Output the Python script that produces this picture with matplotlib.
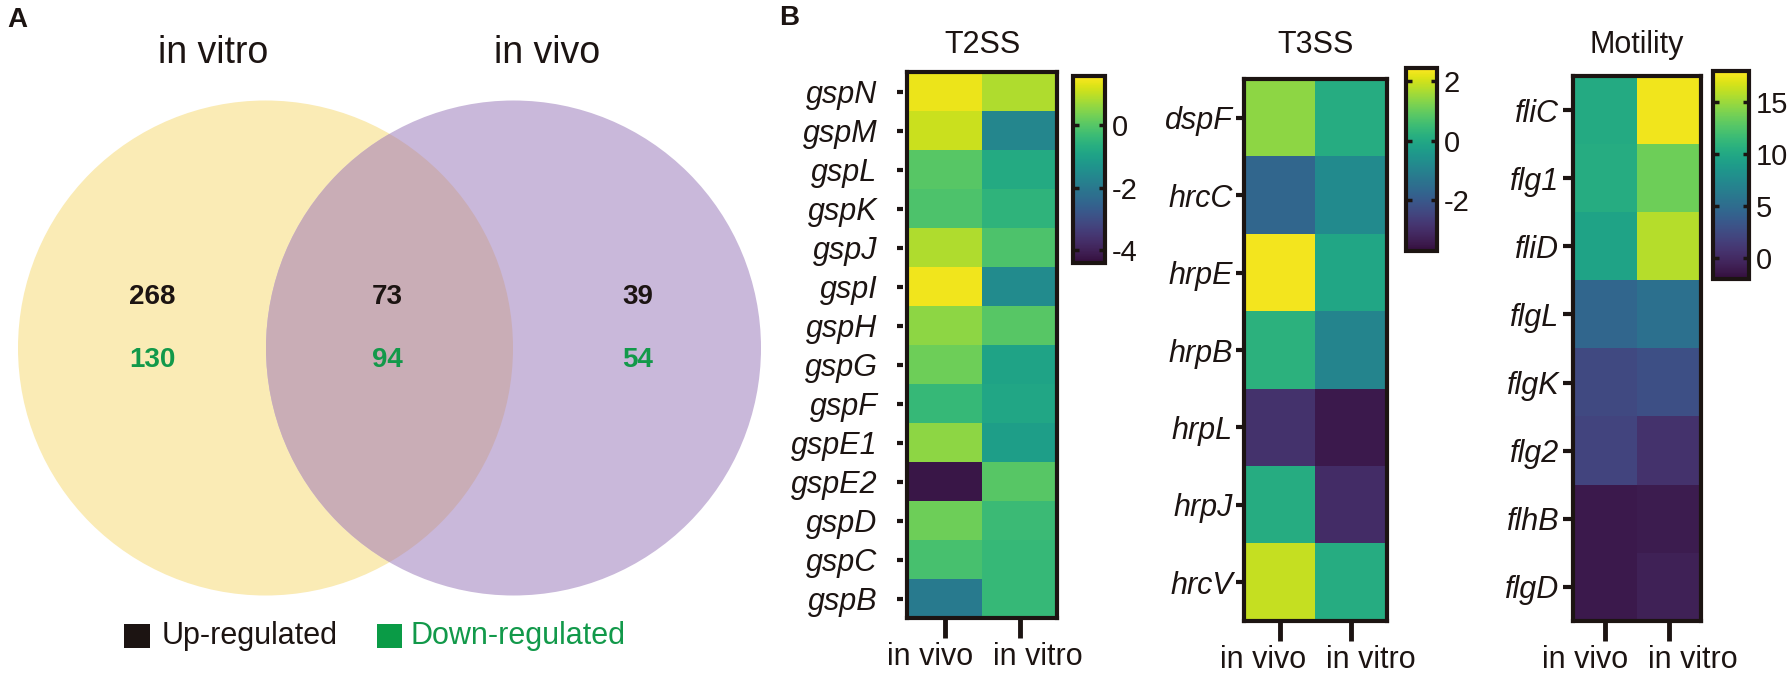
import numpy as np
import matplotlib
matplotlib.use('Agg')
import matplotlib.pyplot as plt
from matplotlib.patches import Circle, Rectangle
from matplotlib.colors import ListedColormap
from matplotlib.transforms import ScaledTranslation

plt.rcParams['font.family'] = ['Liberation Sans', 'DejaVu Sans']
plt.rcParams['axes.unicode_minus'] = False

# ---- panel A : Venn counts ----
venn_sets = ['in vitro', 'in vivo']
up_counts = [268, 73, 39]       # vitro only, both, vivo only
down_counts = [130, 94, 54]
legend_labels = ['Up-regulated', 'Down-regulated']

# ---- panel B : heatmaps ----
conditions = ['in vivo', 'in vitro']

t2ss_genes = ['gspN', 'gspM', 'gspL', 'gspK', 'gspJ', 'gspI', 'gspH',
              'gspG', 'gspF', 'gspE1', 'gspE2', 'gspD', 'gspC', 'gspB']
t2ss_vivo = [1.37, 1.07, 0.00, -0.12, 0.84, 1.43, 0.54,
             0.24, -0.41, 0.54, -4.22, 0.24, -0.18, -1.96]
t2ss_vitro = [0.84, -1.66, -0.77, -0.53, -0.12, -1.54, 0.00,
              -0.95, -0.89, -1.07, 0.00, -0.35, -0.41, -0.41]
t2ss_ticks = [0, -2, -4]

t3ss_genes = ['dspF', 'hrcC', 'hrpE', 'hrpB', 'hrpL', 'hrpJ', 'hrcV']
t3ss_vivo = [1.39, -1.68, 2.32, 0.23, -2.91, 0.10, 1.89]
t3ss_vitro = [0.10, -0.76, -0.08, -0.94, -3.46, -3.03, 0.10]
t3ss_ticks = [2, 0, -2]

mot_genes = ['fliC', 'flg1', 'fliD', 'flgL', 'flgK', 'flg2', 'flhB', 'flgD']
mot_vivo = [10.17, 10.37, 9.57, 4.59, 2.40, 2.00, -1.18, -1.18]
mot_vitro = [17.54, 13.56, 15.75, 5.39, 2.80, 0.61, -0.98, -0.59]
mot_ticks = [15, 10, 5, 0]

DARK = '#1c1412'
GREEN = '#12994a'
W, H = 1790, 679

# viridis with a duller dark end, closer to the printed figure
vir = plt.get_cmap('viridis')(np.linspace(0, 1, 256))
lum = (vir[:, :3] @ np.array([0.3, 0.59, 0.11]))[:, None]
w = np.clip(1 - np.linspace(0, 1, 256) / 0.3, 0, 1)[:, None] * 0.45
vir[:, :3] = vir[:, :3] * (1 - w) + lum * w
CMAP = ListedColormap(vir)

fig = plt.figure(figsize=(W / 100, H / 100), dpi=100)


def px_axes(x0, y0, x1, y1):
    # axes from pixel box (y measured from the top)
    return fig.add_axes([x0 / W, 1 - y1 / H, (x1 - x0) / W, (y1 - y0) / H])


# ---------------- Venn ----------------
ax = px_axes(0, 0, 790, 679)
ax.set_xlim(0, 790)
ax.set_ylim(679, 0)
ax.axis('off')

left = Circle((265.5, 348), 247.5, fc='#FAEBB5', ec='none')
right = Circle((513.5, 348), 247.5, fc='#C9B8DA', ec='none')
ax.add_patch(left)
ax.add_patch(right)
lens = Circle((513.5, 348), 247.5, fc='#C9ADB6', ec='none')
ax.add_patch(lens)
lens.set_clip_path(left)

for name, x in zip(venn_sets, [213, 547]):
    ax.text(x, 53, name, ha='center', va='center', fontsize=27, color=DARK)

for x, up, down in zip([152, 387, 638], up_counts, down_counts):
    ax.text(x, 297, str(up), ha='center', va='center', fontsize=20,
            fontweight='bold', color=DARK)
    ax.text(x, 360, str(down), ha='center', va='center', fontsize=20,
            fontweight='bold', color=GREEN)

ax.add_patch(Rectangle((124, 624), 26, 24, fc=DARK, ec='none'))
ax.text(162, 636, legend_labels[0], va='center', fontsize=22, color=DARK)
ax.add_patch(Rectangle((377, 624), 25, 24, fc='#0a9b46', ec='none'))
ax.text(411, 636, legend_labels[1], va='center', fontsize=22, color=GREEN)

fig.text(17 / W, 1 - 20 / H, 'A', fontsize=20, fontweight='bold',
         ha='center', va='center', color=DARK)
fig.text(789 / W, 1 - 18 / H, 'B', fontsize=20, fontweight='bold',
         ha='center', va='center', color=DARK)


# ---------------- heatmaps ----------------
def heatmap(box, cbox, title, genes, vivo, vitro, vmin, vmax, cticks,
            ylen, ypad, offset=0):
    ax = px_axes(*box)
    data = np.column_stack([vivo, vitro])
    im = ax.imshow(data, cmap=CMAP, vmin=vmin, vmax=vmax,
                   aspect='auto', interpolation='nearest')
    for s in ax.spines.values():
        s.set_linewidth(3)
        s.set_color(DARK)
        s.set_capstyle('projecting')
    if offset:
        # ticks sit a little away from the box, like the original
        ax.spines['left'].set_position(('outward', offset))
        ax.spines['left'].set_visible(False)
        ax.axvline(-0.5, color=DARK, lw=3, clip_on=False,
                   solid_capstyle='projecting')

    ax.set_xticks(range(len(conditions)))
    ax.set_xticklabels(conditions)
    ax.set_yticks(range(len(genes)))
    ax.set_yticklabels(genes, style='italic')
    ax.tick_params(axis='x', length=14.5, width=3.5, pad=3,
                   labelsize=22, color=DARK, labelcolor=DARK)
    ax.tick_params(axis='y', length=ylen, width=3, pad=ypad,
                   labelsize=22, color=DARK, labelcolor=DARK)

    # the two column labels are pushed apart from the box centre
    shift = ((box[2] - box[0]) / 4 - 9) / 100
    lab_vivo, lab_vitro = ax.get_xticklabels()
    lab_vivo.set_ha('right')
    lab_vivo.set_transform(lab_vivo.get_transform()
                           + ScaledTranslation(shift, 0, fig.dpi_scale_trans))
    lab_vitro.set_ha('left')
    lab_vitro.set_transform(lab_vitro.get_transform()
                            + ScaledTranslation(-shift + 0.02, 0,
                                                fig.dpi_scale_trans))

    fig.text((box[0] + box[2]) / 2 / W, 1 - 45 / H, title, ha='center',
             va='center', fontsize=22, color=DARK)

    cax = px_axes(*cbox)
    cb = fig.colorbar(im, cax=cax, ticks=cticks)
    cb.outline.set_linewidth(3)
    cb.outline.set_edgecolor(DARK)
    cax.tick_params(direction='in', left=True, right=True, length=4,
                    width=2.5, labelsize=21, pad=5, color=DARK,
                    labelcolor=DARK)
    return ax


heatmap((907.5, 72, 1057, 618), (1073, 76, 1105, 263), 'T2SS',
        t2ss_genes, t2ss_vivo, t2ss_vitro, -4.4, 1.55, t2ss_ticks,
        ylen=4.3, ypad=14, offset=3.2)
heatmap((1244, 79, 1387, 621), (1406, 68, 1437, 251), 'T3SS',
        t3ss_genes, t3ss_vivo, t3ss_vitro, -3.71, 2.44, t3ss_ticks,
        ylen=6, ypad=2)
heatmap((1573, 76, 1701, 621), (1713, 71, 1749, 279), 'Motility',
        mot_genes, mot_vivo, mot_vitro, -1.98, 17.94, mot_ticks,
        ylen=7, ypad=3)

fig.savefig('out.png', dpi=100)
